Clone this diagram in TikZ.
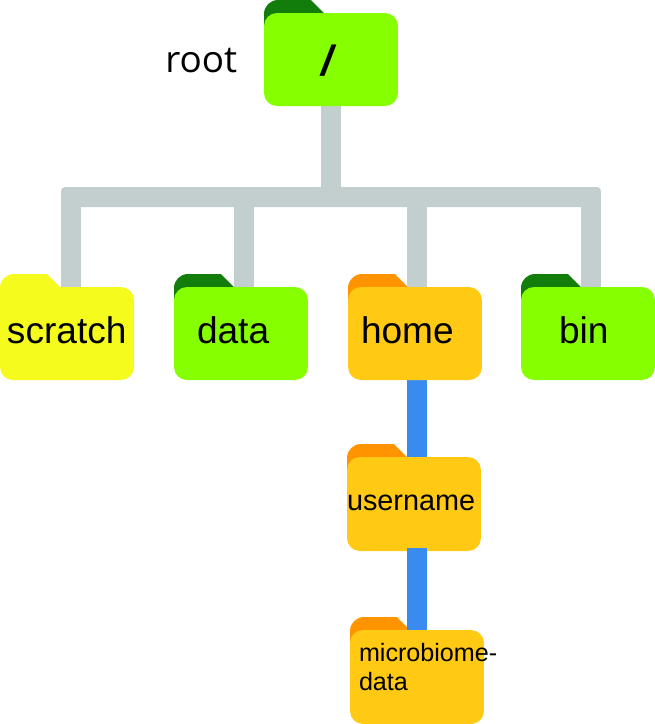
\documentclass[tikz,border=0pt]{standalone}
\usepackage{fontspec}
\usetikzlibrary{backgrounds}
\setmainfont{Liberation Sans}
\newfontfamily\rootfont{Open Sans}
\definecolor{limebody}{HTML}{86FF00}
\definecolor{limetab}{HTML}{127D0A}
\definecolor{yellowbody}{HTML}{F5FB1C}
\definecolor{amberbody}{HTML}{FFC914}
\definecolor{ambertab}{HTML}{FF9300}
\definecolor{trunkgrey}{HTML}{C3CFCF}
\definecolor{linkblue}{HTML}{3A8BF0}
\tikzset{
  folder/.style 2 args={anchor=north west,inner sep=0pt,outer sep=0pt,rounded corners=0.26cm,
    text width=2.68cm,align=left,
    text height=#2*0.02cm,text depth=(93-#2)*0.02cm,
    execute at begin node={\leftskip=#1\dimexpr 0.02cm\relax}},
  bigfont/.style={font=\fontsize{21.1}{25}\selectfont},
  midfont/.style={font=\fontsize{16.4}{20}\selectfont},
  smallfont/.style={font=\fontsize{14.3}{17}\selectfont},
  trunk/.style={line width=0.4cm,trunkgrey},
  link/.style={line width=0.4cm,linkblue}
}
\begin{document}
\begin{tikzpicture}[x=0.02cm,y=-0.02cm]
  \useasboundingbox (0,0) rectangle (655,724);

  \node[folder={57}{62},fill=limebody,font=\fontsize{24}{28}\bfseries\itshape\selectfont] (root) at (264,13) {/};
  \node[folder={7}{56},fill=yellowbody,bigfont] (scratch) at (0,287) {scratch};
  \node[folder={23}{56},fill=limebody,bigfont] (data) at (174,287) {data};
  \node[folder={13}{56},fill=amberbody,bigfont] (home) at (348,287) {home};
  \node[folder={38}{56},fill=limebody,bigfont] (bin) at (521,287) {bin};
  \node[folder={0}{53},fill=amberbody,midfont,text depth=41*0.02cm] (username) at (347,457) {username};
  \node[folder={9}{31},fill=amberbody,smallfont,text depth=63*0.02cm] (microbiome) at (350,630) {microbiome-\\[-0.61cm]data};
  \node[anchor=base west,inner sep=0pt,font=\rootfont\fontsize{21}{25}\selectfont] (rootlabel) at (165,72) {root};

  \begin{scope}[on background layer]
    \foreach \f/\c in {root/limetab,scratch/yellowbody,data/limetab,home/ambertab,bin/limetab,username/ambertab,microbiome/ambertab}
      \fill[\c] (\f.north west) ++(0,20) [rounded corners=0.28cm] -- ++(0,-33) [sharp corners] -- ++(47,0) -- ++(13,13) -- ++(0,20) -- cycle;

    \node[fill=trunkgrey,inner sep=0pt,minimum width=10.8cm,minimum height=0.4cm,rounded corners=0.08cm] (bus) at (331,197) {};
    \draw[trunk] (root.south) -- (root.south |- bus.center);
    \foreach \f/\d in {scratch/4,data/3,home/2,bin/3}
      \draw[trunk] (\f.north) ++(\d,0) coordinate (drop) -- (drop |- bus.center);
    \draw[link] (home.south) ++(2,0) coordinate (drop) -- (drop |- username.north);
  \end{scope}
  \draw[link] (username.south) ++(3,-3) coordinate (drop) -- (drop |- microbiome.north);
\end{tikzpicture}
\end{document}
